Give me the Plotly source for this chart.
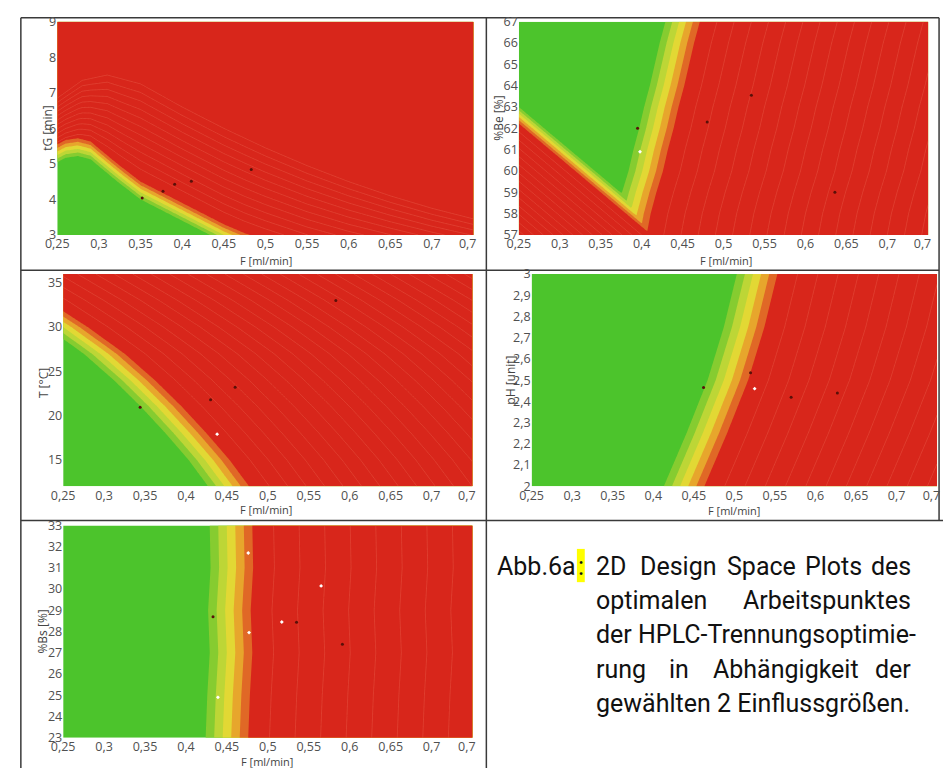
import numpy as np
import plotly.graph_objects as go

W, H = 946, 776

# ---------------- data ----------------
F_TICKS = [0.25, 0.3, 0.35, 0.4, 0.45, 0.5, 0.55, 0.6, 0.65, 0.7, 0.743]
F_LABELS = ["0,25", "0,3", "0,35", "0,4", "0,45", "0,5", "0,55", "0,6", "0,65", "0,7", "0,7"]

# Panel 1: tG [min] vs F  (centre of green->red transition band, y at given F)
TG_BAND_F = [0.25, 0.26, 0.275, 0.29, 0.30, 0.325, 0.35, 0.375, 0.40, 0.425, 0.45, 0.475, 0.50, 0.55, 0.60, 0.70, 0.75]
TG_BAND_Y = [5.30, 5.42, 5.47, 5.38, 5.18, 4.70, 4.25, 3.95, 3.65, 3.35, 3.05, 2.80, 2.60, 2.25, 2.00, 1.65, 1.50]
TG_HALF = 0.25
TG_FAN_F = [0.25, 0.28, 0.31, 0.35, 0.40, 0.45, 0.50, 0.55, 0.60, 0.65, 0.70, 0.75]
TG_FAN_Y = [6.85, 7.35, 7.50, 7.25, 6.60, 6.00, 5.45, 4.95, 4.50, 4.10, 3.75, 3.45]
TG_TICKS = [3, 4, 5, 6, 7, 8, 9]
TG_LABELS = ["3", "4", "5", "6", "7", "8", "9"]
TG_DOTS_F = [0.352, 0.377, 0.391, 0.411, 0.483]
TG_DOTS_Y = [4.04, 4.23, 4.43, 4.51, 4.84]

# Panel 2: %Be [%] vs F  (V shaped green region)
BE_R_Y = [57, 58, 59, 60, 61, 62, 63, 64, 65, 66, 67]
BE_R_F = [0.385, 0.390, 0.397, 0.405, 0.411, 0.418, 0.424, 0.431, 0.437, 0.443, 0.450]
BE_R_HALF = 0.021
BE_L_Y = [57, 58, 59, 60, 61, 62, 63, 64, 67]
BE_L_F = [0.424, 0.393, 0.362, 0.331, 0.300, 0.269, 0.238, 0.207, 0.114]
BE_L_HALF = 0.012
BE_TICKS = [57, 58, 59, 60, 61, 62, 63, 64, 65, 66, 67]
BE_LABELS = ["57", "58", "59", "60", "61", "62", "63", "64", "65", "66", "67"]
BE_DOTS_F = [0.395, 0.480, 0.534, 0.636]
BE_DOTS_Y = [62.0, 62.3, 63.55, 59.0]
BE_WDOTS_F = [0.398]
BE_WDOTS_Y = [60.9]

# Panel 3: T [°C] vs F
T_Y = [12, 15, 18, 21, 24, 27, 30, 33, 36]
T_BAND_F = [0.452, 0.428, 0.400, 0.370, 0.337, 0.300, 0.255, 0.205, 0.150]
T_HALF = 0.025
T_TICKS = [15, 20, 25, 30, 35]
T_LABELS = ["15", "20", "25", "30", "35"]
T_DOTS_F = [0.344, 0.430, 0.460, 0.583]
T_DOTS_Y = [20.95, 21.8, 23.2, 33.0]
T_WDOTS_F = [0.438]
T_WDOTS_Y = [17.9]

# Panel 4: pH [unit] vs F
PH_Y = [2.0, 2.25, 2.5, 2.75, 3.0]
PH_BAND_F = [0.438, 0.466, 0.492, 0.512, 0.528]
PH_HALF = 0.025
PH_TICKS = [2.0, 2.1, 2.2, 2.3, 2.4, 2.5, 2.6, 2.7, 2.8, 2.9, 3.0]
PH_LABELS = ["2", "2,1", "2,2", "2,3", "2,4", "2,5", "2,6", "2,7", "2,8", "2,9", "3"]
PH_DOTS_F = [0.462, 0.520, 0.570, 0.627]
PH_DOTS_Y = [2.465, 2.535, 2.42, 2.44]
PH_WDOTS_F = [0.525]
PH_WDOTS_Y = [2.46]

# Panel 5: %Bs [%] vs F
BS_Y = [23, 25, 27, 29, 31, 33]
BS_BAND_F = [0.450, 0.452, 0.455, 0.453, 0.456, 0.455]
BS_HALF = 0.026
BS_TICKS = [23, 24, 25, 26, 27, 28, 29, 30, 31, 32, 33]
BS_LABELS = ["23", "24", "25", "26", "27", "28", "29", "30", "31", "32", "33"]
BS_DOTS_F = [0.433, 0.535, 0.591]
BS_DOTS_Y = [28.7, 28.44, 27.4]
BS_WDOTS_F = [0.565, 0.517, 0.477, 0.476, 0.439]
BS_WDOTS_Y = [30.15, 28.45, 27.95, 31.7, 24.9]

CAPTION_LINES = [
    ["2D", "Design", "Space", "Plots", "des"],
    ["optimalen", "Arbeitspunktes"],
    ["der HPLC-Trennungsoptimie-"],
    ["rung", "in", "Abhängigkeit", "der"],
    ["gewählten 2 Einflussgrößen."],
]

# ---------------- styling ----------------
FILL_COLORS = ["#4cc42c", "#86cc30", "#bdd636", "#e2d834", "#e7a62c", "#e06826", "#d8261b"]
FILL_SCALE = [[i / 6, c] for i, c in enumerate(FILL_COLORS)]
LINE_COLOR = "rgba(242,118,96,0.38)"
TICKFONT = dict(family="Open Sans", size=12.5, color="#505050")
TITLEFONT = dict(family="Open Sans", size=12, color="#444444")
XTITLEFONT = dict(family="Open Sans", size=11, color="#444444")

# panel pixel boxes: left, right, top, bottom
BOXES = {
    1: (46, 469, 13, 231),
    2: (515, 931, 13, 231),
    3: (52, 468, 271, 488),
    4: (528, 940, 271, 488),
    5: (52, 468, 528, 745),
}

fig = go.Figure()
FG = np.linspace(0.25, 0.75, 301)


def px(x):
    return x / W


def py(y):
    return 1 - y / H


def add_panel(n, yrange, zfill, zline, lstart, lend, lsize, yticks, ylabels,
              dots, wdots, ytitle, ytitle_pos, xtitle_pos, yg):
    xa = "x" if n == 1 else f"x{n}"
    ya = "y" if n == 1 else f"y{n}"
    fig.add_trace(go.Contour(
        x=FG, y=yg, z=zfill, xaxis=xa, yaxis=ya,
        colorscale=FILL_SCALE, showscale=False, hoverinfo="skip",
        autocontour=False,
        contours=dict(start=-1.0, end=1.0, size=0.4, coloring="fill", showlines=False),
        line=dict(width=0),
    ))
    fig.add_trace(go.Contour(
        x=FG, y=yg, z=zline, xaxis=xa, yaxis=ya,
        colorscale=[[0, LINE_COLOR], [1, LINE_COLOR]], showscale=False, hoverinfo="skip",
        autocontour=False,
        contours=dict(start=lstart, end=lend, size=lsize, coloring="lines"),
        line=dict(width=0.8, smoothing=1.0),
    ))
    fig.add_trace(go.Scatter(x=dots[0], y=dots[1], xaxis=xa, yaxis=ya, mode="markers",
                             marker=dict(size=3, color="#5a1008"), hoverinfo="skip"))
    if wdots is not None:
        fig.add_trace(go.Scatter(x=wdots[0], y=wdots[1], xaxis=xa, yaxis=ya, mode="markers",
                                 marker=dict(size=3, color="#ffffff", symbol="diamond"),
                                 hoverinfo="skip"))
    l, r, t, b = BOXES[n]
    xkey = "xaxis" if n == 1 else f"xaxis{n}"
    ykey = "yaxis" if n == 1 else f"yaxis{n}"
    fig.update_layout(**{
        xkey: dict(domain=[px(l), px(r)], range=[0.25, 0.75], anchor=ya,
                   tickvals=F_TICKS, ticktext=F_LABELS, showgrid=False, zeroline=False,
                   showline=False, ticks="", tickfont=TICKFONT, fixedrange=True),
        ykey: dict(domain=[py(b), py(t)], range=yrange, anchor=xa,
                   tickvals=yticks, ticktext=ylabels, showgrid=False, zeroline=False,
                   showline=False, ticks="", tickfont=TICKFONT, fixedrange=True),
    })
    fig.add_annotation(text=ytitle, x=px(ytitle_pos[0]), y=py(ytitle_pos[1]), xref="paper",
                       yref="paper", textangle=-90, showarrow=False, font=TITLEFONT,
                       xanchor="center", yanchor="middle")
    fig.add_annotation(text="F [ml/min]", x=px(xtitle_pos[0]), y=py(xtitle_pos[1]), xref="paper",
                       yref="paper", showarrow=False, font=XTITLEFONT,
                       xanchor="center", yanchor="middle")


# Panel 1
y1 = np.linspace(3, 9, 181)
yb1 = np.interp(FG, TG_BAND_F, TG_BAND_Y)
yt1 = np.interp(FG, TG_FAN_F, TG_FAN_Y)
z1 = (y1[:, None] - yb1[None, :]) / TG_HALF
l1 = (y1[:, None] - yb1[None, :]) / (yt1 - yb1)[None, :]
add_panel(1, [3, 9], z1, l1, 0.2, 1.0, 0.08, TG_TICKS, TG_LABELS,
          (TG_DOTS_F, TG_DOTS_Y), None, "tG [min]", (36, 122), (258, 257), y1)

# Panel 2
y2 = np.linspace(57, 67, 181)
xr2 = np.interp(y2, BE_R_Y, BE_R_F)
xl2 = np.interp(y2, BE_L_Y, BE_L_F)
zr = (FG[None, :] - xr2[:, None]) / BE_R_HALF
zl = (xl2[:, None] - FG[None, :]) / BE_L_HALF
z2 = np.maximum(zr, zl)
add_panel(2, [57, 67], z2, z2, 2.0, 40.0, 1.0, BE_TICKS, BE_LABELS,
          (BE_DOTS_F, BE_DOTS_Y), (BE_WDOTS_F, BE_WDOTS_Y), "%Be [%]", (494, 112), (726, 257), y2)

# Panel 3
y3 = np.linspace(12, 36, 181)
xb3 = np.interp(y3, T_Y, T_BAND_F)
z3 = (FG[None, :] - xb3[:, None]) / T_HALF
add_panel(3, [12, 36], z3, z3, 2.0, 40.0, 0.9, T_TICKS, T_LABELS,
          (T_DOTS_F, T_DOTS_Y), (T_WDOTS_F, T_WDOTS_Y), "T [°C]", (32, 382), (258, 512), y3)

# Panel 4
y4 = np.linspace(2, 3, 181)
xb4 = np.interp(y4, PH_Y, PH_BAND_F)
z4 = (FG[None, :] - xb4[:, None]) / PH_HALF
add_panel(4, [2, 3], z4, z4, 2.0, 40.0, 1.0, PH_TICKS, PH_LABELS,
          (PH_DOTS_F, PH_DOTS_Y), (PH_WDOTS_F, PH_WDOTS_Y), "pH [unit]", (507, 379), (734, 513), y4)

# Panel 5
y5 = np.linspace(23, 33, 181)
xb5 = np.interp(y5, BS_Y, BS_BAND_F)
z5 = (FG[None, :] - xb5[:, None]) / BS_HALF
add_panel(5, [23, 33], z5, z5, 2.0, 40.0, 1.2, BS_TICKS, BS_LABELS,
          (BS_DOTS_F, BS_DOTS_Y), (BS_WDOTS_F, BS_WDOTS_Y), "%Bs [%]", (31, 637), (259, 769), y5)

# ---------------- table frame ----------------
LINE = dict(color="#3a3a3a", width=1.5)
frame = [
    (9, 9, 942, 9),        # top
    (9, 9, 9, 776),        # left
    (942, 9, 942, 523),    # right
    (482, 9, 482, 776),    # middle
    (9, 267, 942, 267),    # row 1/2
    (9, 523, 946, 523),    # row 2/3
]
for x0, y0, x1, y1_ in frame:
    fig.add_shape(type="line", xref="paper", yref="paper", x0=px(x0), y0=py(y0),
                  x1=px(x1), y1=py(y1_), line=LINE, layer="below")

# ---------------- caption ----------------
CAP_FONT = dict(family="Roboto", size=25, color="#111111")
fig.add_shape(type="rect", xref="paper", yref="paper", x0=px(574), x1=px(582),
              y0=py(586), y1=py(552), fillcolor="#ffff00", line=dict(width=0), layer="below")
fig.add_annotation(text="Abb.6a", x=px(574), y=py(570), xref="paper", yref="paper",
                   showarrow=False, font=CAP_FONT, xanchor="right", yanchor="middle",
                   borderpad=0)
fig.add_annotation(text=":", x=px(578), y=py(570), xref="paper", yref="paper",
                   showarrow=False, font=CAP_FONT, xanchor="center", yanchor="middle",
                   borderpad=0)
LINE_Y = [570, 605, 640, 675, 710]
WORD_X = [
    [592, 637, 726, 805, 915],
    [592, 915],
    [592],
    [592, 667, 711, 915],
    [592],
]
for words, xs, yy in zip(CAPTION_LINES, WORD_X, LINE_Y):
    for k, (w, xx) in enumerate(zip(words, xs)):
        last = (k == len(words) - 1) and len(words) > 1
        fig.add_annotation(text=w, x=px(xx), y=py(yy), xref="paper", yref="paper",
                           showarrow=False, font=CAP_FONT, borderpad=0,
                           xanchor="right" if last else "left", yanchor="middle")

fig.update_layout(width=W, height=H, margin=dict(l=0, r=0, t=0, b=0),
                  paper_bgcolor="white", plot_bgcolor="white", showlegend=False)

fig.write_html("out.html", config={"displayModeBar": False},
               post_script="document.body.style.margin='0px';document.body.style.overflow='hidden';")
